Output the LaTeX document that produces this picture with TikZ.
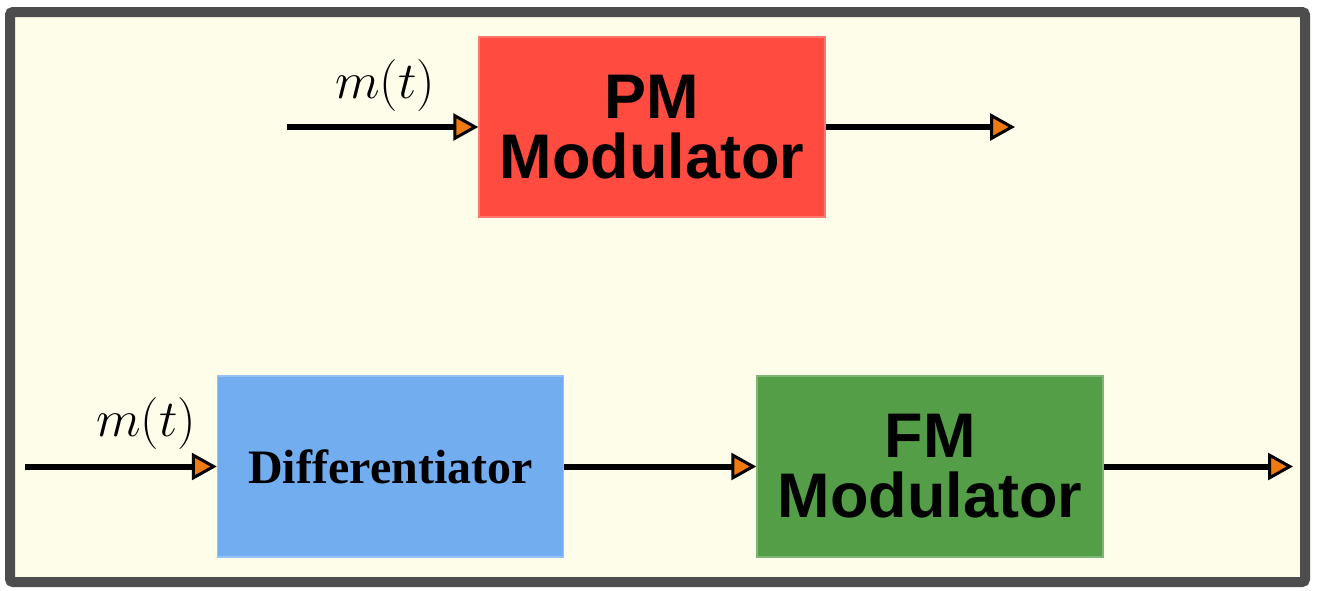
\documentclass[tikz,border=0pt]{standalone}
\usepackage{fix-cm}
\usepackage{fontspec}
\usetikzlibrary{arrows.meta}
\newfontfamily\hvfont{Liberation Sans}
\newfontfamily\tmfont{Liberation Serif}
\definecolor{framegray}{HTML}{4D4D4D}
\definecolor{bgyellow}{HTML}{FDFDE9}
\definecolor{pmred}{HTML}{FF4B40}
\definecolor{diffblue}{HTML}{72ADF0}
\definecolor{fmgreen}{HTML}{549E48}
\definecolor{tiporange}{HTML}{F07A12}
\tikzset{
  blockbox/.style={rectangle, minimum width=346pt, minimum height=181pt, inner sep=0pt, line width=1.5pt, align=center},
  modtext/.style={font=\hvfont\bfseries\fontsize{63}{60}\selectfont},
  difftext/.style={font=\tmfont\bfseries\fontsize{48}{50}\selectfont},
  sigarrow/.style={line width=6pt, -{Triangle[length=25pt, width=27pt, line width=3pt, fill=tiporange]}},
  siglabel/.style={anchor=base, inner sep=0pt, font=\fontsize{52}{57}\selectfont}
}
\begin{document}
\begin{tikzpicture}[x=1pt, y=-1pt]
\useasboundingbox (0,0) rectangle (1318,590);
\fill[white] (0,0) rectangle (1318,590);
\draw[line width=10pt, draw=framegray, fill=bgyellow, rounded corners=3pt] (10,12) rectangle (1305,582);

\node[blockbox, modtext, fill=pmred, draw=pmred!75!white, minimum width=346pt, minimum height=180pt] (pm) at (652,127) {PM\\Modulator};
\node[blockbox, difftext, fill=diffblue, draw=diffblue!75!white] (diff) at (390.5,466.5) {Differentiator};
\node[blockbox, modtext, fill=fmgreen, draw=fmgreen!75!white] (fm) at (930,466.5) {FM\\Modulator};

\coordinate (in1) at (287,127);
\coordinate (out1) at (1015,127);
\coordinate (in2) at (25,466.5);
\coordinate (out2) at (1293,466.5);

\draw[sigarrow] (in1) -- (pm.west);
\draw[sigarrow] (pm.east) -- (out1);
\draw[sigarrow] (in2) -- (diff.west);
\draw[sigarrow] (diff.east) -- (fm.west);
\draw[sigarrow] (fm.east) -- (out2);

\node[siglabel] (lab1) at (385,98) {$m(t)$};
\node[siglabel] (lab2) at (146,436) {$m(t)$};
\end{tikzpicture}
\end{document}
